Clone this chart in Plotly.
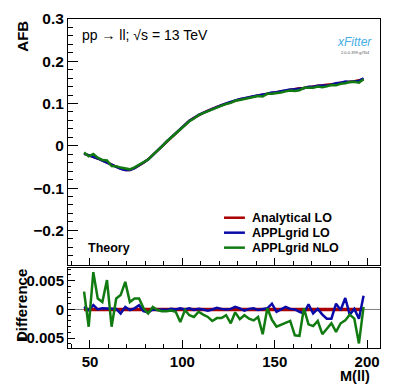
import plotly.graph_objects as go

# mass bin centres, GeV
mass = [46.8, 49.3, 51.8, 54.2, 56.7, 59.2, 61.7, 64.2, 66.6, 69.1,
        71.6, 74.1, 76.6, 79.0, 81.5, 84.0, 86.5, 89.0, 91.4, 93.9,
        96.4, 98.9, 101.4, 103.8, 106.3, 108.8, 111.3, 113.8, 116.2, 118.7,
        121.2, 123.7, 126.2, 128.6, 131.1, 133.6, 136.1, 138.6, 141.0, 143.5,
        146.0, 148.5, 151.0, 153.4, 155.9, 158.4, 160.9, 163.4, 165.8, 168.3,
        170.8, 173.3, 175.8, 178.2, 180.7, 183.2, 185.7, 188.2, 190.6, 193.1,
        195.6, 198.1]

# analytical LO forward-backward asymmetry
afb_analytical = [-0.019, -0.022, -0.026, -0.030, -0.035, -0.040, -0.045, -0.050, -0.054, -0.0575,
                  -0.057, -0.053, -0.047, -0.040, -0.032, -0.022, -0.012, -0.001, 0.010, 0.020,
                  0.030, 0.040, 0.050, 0.059, 0.066, 0.073, 0.078, 0.083, 0.088, 0.092,
                  0.096, 0.100, 0.104, 0.107, 0.110, 0.112, 0.115, 0.117, 0.119, 0.121,
                  0.123, 0.125, 0.127, 0.129, 0.131, 0.133, 0.134, 0.136, 0.137, 0.139,
                  0.140, 0.142, 0.143, 0.144, 0.146, 0.147, 0.149, 0.150, 0.152, 0.153,
                  0.155, 0.157]

# differences to analytical LO, in units of 1e-3
diff_appl_lo = [0.45, -0.1, 0.75, 0.0, 0.2, 0.2, 0.1, 0.1, -0.7, 0.45,
                -0.1, 0.2, 0.75, -0.3, -0.5, 0.0, -0.1, 0.0, -0.1, 0.1,
                0.0, 0.2, 0.0, 0.2, -0.1, 0.1, 0.0, -0.2, 0.0, 0.3,
                0.1, 0.0, 0.1, 0.45, 0.2, -0.2, 0.1, 0.2, -0.1, 0.1,
                0.2, 1.0, -0.4, 0.0, 0.45, 0.1, 0.0, -0.4, -0.7, 0.9,
                -0.7, 0.1, -0.9, -1.6, -1.6, 1.0, -0.1, 2.0, -0.9, 0.1,
                -1.6, 2.4]
diff_appl_nlo = [3.1, -3.0, 6.5, 1.9, 1.3, 5.1, -3.0, 1.9, 2.5, 4.8,
                 1.3, 1.9, 1.9, 0.2, -0.7, 0.45, -0.1, -0.3, -0.3, -0.2,
                 -0.4, -2.2, -0.1, -1.0, -1.3, -0.4, -0.9, -1.3, -2.0, -1.5,
                 -1.5, -1.0, -2.4, -0.5, -1.7, -1.0, -1.6, -1.9, -1.3, -4.3,
                 0.2, -1.8, -3.0, -2.7, -2.3, -2.0, -4.5, -4.6, 0.2, -2.6,
                 -2.9, -2.0, -4.3, -3.4, -2.4, -3.9, -2.4, -1.9, -0.9, -1.6,
                 -5.9, 0.45]

d_analytical = [0.0 for _ in mass]
d_lo = [d * 1e-3 for d in diff_appl_lo]
d_nlo = [d * 1e-3 for d in diff_appl_nlo]
afb_appl_lo = [a + d for a, d in zip(afb_analytical, d_lo)]
afb_appl_nlo = [a + d for a, d in zip(afb_analytical, d_nlo)]

names = ["Analytical LO", "APPLgrid LO", "APPLgrid NLO"]
colors = ["#aa0000", "#0a0aa8", "#117a11"]

FONT = "Liberation Sans, Arial, sans-serif"

fig = go.Figure()

# upper pad: AFB
for name, col, ys in zip(names, colors, [afb_analytical, afb_appl_lo, afb_appl_nlo]):
    fig.add_trace(go.Scatter(x=mass, y=ys, mode="lines", name=name,
                             line=dict(color=col, width=2.5), showlegend=False,
                             xaxis="x", yaxis="y"))

# lower pad: differences
for name, col, ys, w in zip(names, colors, [d_analytical, d_lo, d_nlo], [3.5, 2.5, 2.5]):
    fig.add_trace(go.Scatter(x=mass, y=ys, mode="lines", name=name,
                             line=dict(color=col, width=w), showlegend=False,
                             xaxis="x2", yaxis="y2"))

# grey zero line across the lower pad
fig.add_shape(type="line", xref="x2 domain", yref="y2", x0=0, x1=1, y0=0, y1=0,
              line=dict(color="#808080", width=1), layer="below")

# ROOT-style legend: short line + bold label
leg_y = [0.396, 0.3505, 0.305]
for name, col, ly in zip(names, colors, leg_y):
    fig.add_shape(type="line", xref="paper", yref="paper", x0=0.5, x1=0.567, y0=ly, y1=ly,
                  line=dict(color=col, width=2.5))
    fig.add_annotation(text=name, xref="paper", yref="paper", x=0.583, y=ly,
                       xanchor="left", yanchor="middle", showarrow=False,
                       font=dict(size=12.5, weight="bold"))

axis_common = dict(showline=True, mirror=True, linecolor="black", linewidth=1,
                   showgrid=False, zeroline=False, ticks="inside", tickcolor="black",
                   automargin=False)

xr = [38.1, 207.0]
fig.update_layout(
    width=399, height=387,
    margin=dict(l=68, r=19, t=19, b=39),
    plot_bgcolor="white", paper_bgcolor="white",
    font=dict(family=FONT, color="black"),
    xaxis=dict(axis_common, domain=[0, 1], range=xr, anchor="y",
               dtick=50, tick0=0, ticklen=7, showticklabels=False,
               minor=dict(dtick=10, ticklen=4, ticks="inside", tickcolor="black")),
    yaxis=dict(axis_common, domain=[0.2523, 1], range=[-0.282, 0.3], anchor="x",
               dtick=0.1, tick0=0, ticklen=10,
               tickfont=dict(size=15.5, weight="bold"),
               minor=dict(dtick=0.02, ticklen=5, ticks="inside", tickcolor="black")),
    xaxis2=dict(axis_common, domain=[0, 1], range=xr, anchor="y2",
                dtick=50, tick0=0, ticklen=8,
                tickfont=dict(size=15, weight="bold"),
                minor=dict(dtick=10, ticklen=4, ticks="inside", tickcolor="black")),
    yaxis2=dict(axis_common, domain=[0, 0.243], range=[-0.0067, 0.0072], anchor="x2",
                dtick=0.005, tick0=0, ticklen=7,
                tickfont=dict(size=15, weight="bold"),
                minor=dict(dtick=0.001, ticklen=3, ticks="inside", tickcolor="black")),
    showlegend=False,
)

ann = [
    dict(text="AFB", x=-0.147, y=1.0, xanchor="center", yanchor="top", textangle=-90,
         font=dict(size=15, weight="bold")),
    dict(text="Difference", x=-0.147, y=0.1277, xanchor="center", yanchor="middle", textangle=-90,
         font=dict(size=15, weight="bold")),
    dict(text="M(ll)", x=0.974, y=-0.086, xanchor="right", yanchor="middle",
         font=dict(size=14.5, weight="bold")),
    dict(text="pp \u2192 ll; \u221as = 13 TeV", x=0.0385, y=0.951, xanchor="left", yanchor="middle",
         font=dict(size=14)),
    dict(text="Theory", x=0.0577, y=0.304, xanchor="left", yanchor="middle",
         font=dict(size=12.5, weight="bold")),
    dict(text="<i>xFitter</i>", x=0.917, y=0.930, xanchor="center", yanchor="middle",
         font=dict(size=12, color="#45aee6")),
    dict(text="2.0.0-399-g7f04", x=0.923, y=0.899, xanchor="center", yanchor="middle",
         font=dict(size=4, color="#555555")),
]
for a in ann:
    fig.add_annotation(xref="paper", yref="paper", showarrow=False, **a)

# drop the browser's default 8px body margin so the figure sits at the page origin
fig.write_html("out.html", config={"displayModeBar": False},
               post_script="document.body.style.margin='0';")
